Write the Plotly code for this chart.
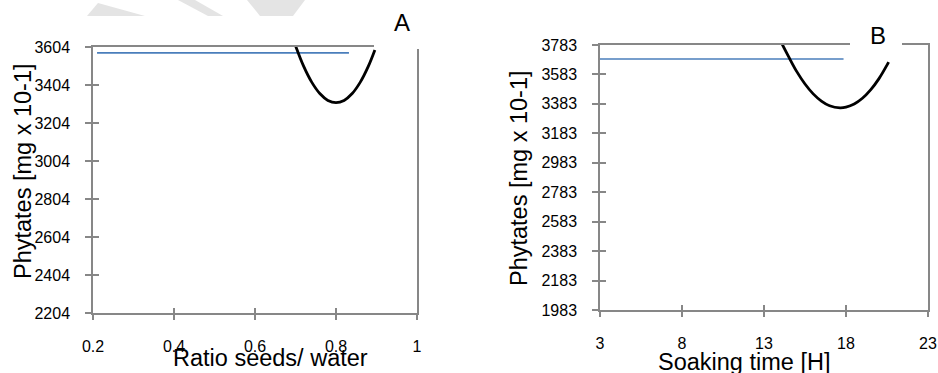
import plotly.graph_objects as go

W, H = 938, 373

# ---- Data ----
# Panel A: Ratio seeds/water
a_blue_x = [0.21, 0.832]
a_blue_y = [3573, 3573]
a_curve_x = [0.700, 0.72, 0.74, 0.76, 0.78, 0.80, 0.82, 0.84, 0.86, 0.88, 0.896]
a_curve_y = [3611, 3503, 3419, 3359, 3323, 3311, 3323, 3359, 3419, 3503, 3588]
a_xticks = [0.2, 0.4, 0.6, 0.8, 1]
a_xticktext = ["0.2", "0.4", "0.6", "0.8", "1"]
a_yticks = [2204, 2404, 2604, 2804, 3004, 3204, 3404, 3604]

# Panel B: Soaking time
b_blue_x = [3, 17.85]
b_blue_y = [3688, 3688]
b_curve_x = [14.1, 14.5, 15.0, 15.5, 16.0, 16.5, 17.0, 17.64, 18.0, 18.5, 19.0, 19.5, 20.0, 20.6]
b_curve_y = [3790, 3704, 3602, 3518, 3451, 3402, 3370, 3356, 3361, 3382, 3421, 3478, 3553, 3667]
b_xticks = [3, 8, 13, 18, 23]
b_yticks = [1983, 2183, 2383, 2583, 2783, 2983, 3183, 3383, 3583, 3783]

FONT = "Liberation Sans, Arial, sans-serif"
AXC = "#878787"
BLUE = "#4a7ebb"


def px(x, y):
    return x / W, 1 - y / H


fig = go.Figure()

fig.add_trace(go.Scatter(x=a_blue_x, y=a_blue_y, mode="lines",
                         line=dict(color=BLUE, width=1.6), xaxis="x", yaxis="y"))
fig.add_trace(go.Scatter(x=a_curve_x, y=a_curve_y, mode="lines",
                         line=dict(color="black", width=2.8, shape="spline"),
                         xaxis="x", yaxis="y"))
fig.add_trace(go.Scatter(x=b_blue_x, y=b_blue_y, mode="lines",
                         line=dict(color=BLUE, width=1.6), xaxis="x2", yaxis="y2"))
fig.add_trace(go.Scatter(x=b_curve_x, y=b_curve_y, mode="lines",
                         line=dict(color="black", width=2.8, shape="spline"),
                         xaxis="x2", yaxis="y2"))
# empty traces to host the inner-tick overlay axes
fig.add_trace(go.Scatter(x=[None], y=[None], xaxis="x3", yaxis="y3", hoverinfo="skip"))
fig.add_trace(go.Scatter(x=[None], y=[None], xaxis="x4", yaxis="y4", hoverinfo="skip"))

ax_dom_a = [93 / W, 417 / W]
ay_dom_a = [1 - 313 / H, 1 - 47 / H]
bx_dom_b = [600 / W, 928 / W]
by_dom_b = [1 - 310 / H, 1 - 45 / H]

tickfont = dict(family=FONT, size=16, color="black")

common_x = dict(showgrid=False, zeroline=False, showline=True, linecolor=AXC, linewidth=1.5,
                mirror=True, ticks="outside", ticklen=5, tickwidth=1.5, tickcolor=AXC,
                tickfont=tickfont, ticklabelstandoff=13, fixedrange=True)
common_y = dict(showgrid=False, zeroline=False, showline=True, linecolor=AXC, linewidth=1.5,
                mirror=True, ticks="outside", ticklen=6, tickwidth=1.5, tickcolor=AXC,
                tickfont=tickfont, ticklabelstandoff=12, fixedrange=True)
inner = dict(showgrid=False, zeroline=False, showline=False, showticklabels=False,
             ticks="inside", tickwidth=1.5, tickcolor=AXC, fixedrange=True)

fig.update_layout(
    width=W, height=H,
    margin=dict(l=0, r=0, t=0, b=0, autoexpand=False),
    paper_bgcolor="white", plot_bgcolor="white",
    showlegend=False,
    xaxis=dict(domain=ax_dom_a, anchor="y", range=[0.2, 1], tickvals=a_xticks,
               ticktext=a_xticktext, **common_x),
    yaxis=dict(domain=ay_dom_a, anchor="x", range=[a_yticks[0], a_yticks[-1]],
               tickvals=a_yticks, **common_y),
    xaxis2=dict(domain=bx_dom_b, anchor="y2", range=[3, 23], tickvals=b_xticks, **common_x),
    yaxis2=dict(domain=by_dom_b, anchor="x2", range=[b_yticks[0], b_yticks[-1]],
                tickvals=b_yticks, **common_y),
    xaxis3=dict(overlaying="x", anchor="y3", range=[0.2, 1], tickvals=a_xticks, ticklen=5, side="bottom", **inner),
    yaxis3=dict(overlaying="y", anchor="x3", range=[a_yticks[0], a_yticks[-1]], tickvals=a_yticks, ticklen=6, side="left", **inner),
    xaxis4=dict(overlaying="x2", anchor="y4", range=[3, 23], tickvals=b_xticks, ticklen=5, side="bottom", **inner),
    yaxis4=dict(overlaying="y2", anchor="x4", range=[b_yticks[0], b_yticks[-1]], tickvals=b_yticks, ticklen=6, side="left", **inner),
)

# axis titles and panel labels
def ann(text, x, y, size, angle=0):
    xx, yy = px(x, y)
    fig.add_annotation(text=text, x=xx, y=yy, xref="paper", yref="paper",
                       showarrow=False, textangle=angle,
                       font=dict(family=FONT, size=size, color="black"),
                       xanchor="center", yanchor="middle")

# white boxes that break the frame around the panel letters
shapes = []
for (x0, y0, x1, y1) in [(374, 0, 423, 49), (850, 0, 902, 47)]:
    a0 = px(x0, y1)
    a1 = px(x1, y0)
    shapes.append(dict(type="rect", xref="paper", yref="paper", x0=a0[0], y0=a0[1],
                       x1=a1[0], y1=a1[1], fillcolor="white", line=dict(width=0),
                       layer="above"))

# faint watermark fragments at the top edge
def poly(pts):
    p = [px(x, y) for x, y in pts]
    return "M " + " L ".join(f"{a:.5f},{b:.5f}" for a, b in p) + " Z"

for pts in [[(87, 16), (98, 3), (145, 16)],
            [(178, 0), (195, 0), (223, 16), (208, 16)],
            [(247, 0), (305, 0), (293, 16), (260, 16)]]:
    shapes.append(dict(type="path", xref="paper", yref="paper", path=poly(pts),
                       fillcolor="#e4e4e4", line=dict(width=0), layer="below"))

fig.update_layout(shapes=shapes)

ann("Ratio seeds/ water", 270, 358, 23.5)
ann("Phytates [mg x 10-1]", 23, 171, 23.5, -90)
ann("Soaking time [H]", 744, 362, 23.5)
ann("Phytates [mg x 10-1]", 519, 178, 23.5, -90)
ann("A", 402, 22, 24)
ann("B", 878, 36, 24)

fig.write_html("out.html", config={"displayModeBar": False},
               post_script="document.body.style.margin='0';document.body.style.overflow='hidden';")
